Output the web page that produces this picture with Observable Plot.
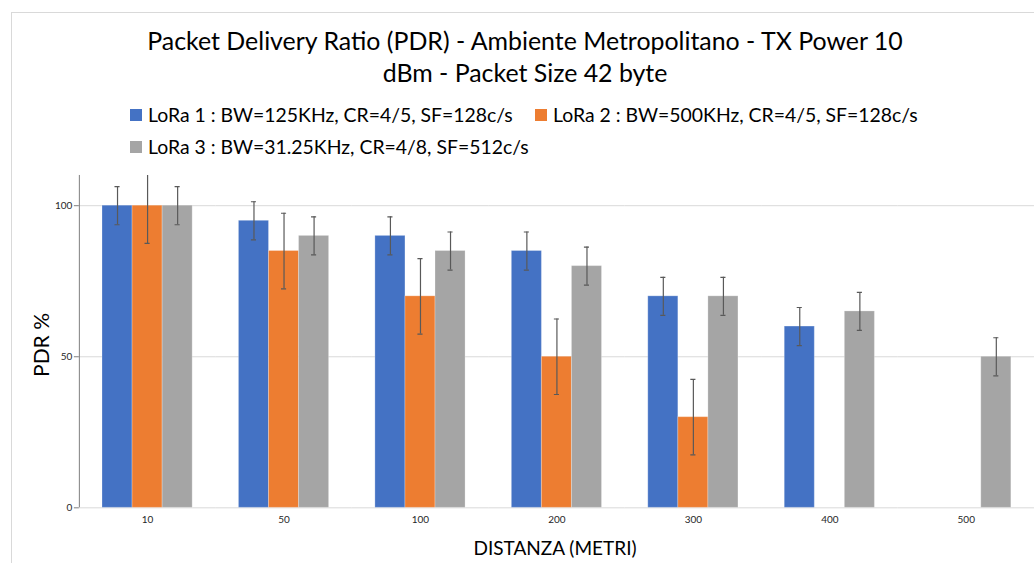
<!DOCTYPE html>
<html><head><meta charset="utf-8">
<script src="https://cdn.jsdelivr.net/npm/d3@7"></script>
<script src="https://cdn.jsdelivr.net/npm/@observablehq/plot@0.6"></script>
<style>
body{margin:0;width:1034px;height:563px;overflow:hidden;background:#fff;font-family:Lato,"Open Sans",sans-serif;position:relative;color:#000;}
#frame{position:absolute;left:11px;top:12px;width:1100px;height:600px;border-left:1px solid #d9d9d9;border-top:1px solid #d9d9d9;}
#title{position:absolute;left:0;top:24px;width:1050px;text-align:center;font-size:24.9px;line-height:32px;}
.leg{position:absolute;font-size:19.4px;line-height:22px;display:flex;align-items:center;white-space:nowrap;}
.sw{width:12px;height:12px;margin-right:6px;display:inline-block;}
#chart{position:absolute;left:0;top:165px;color:#262626;}
#ylabel{position:absolute;left:40px;top:345px;transform:translate(-50%,-50%) rotate(-90deg);font-size:21px;white-space:nowrap;}
#xlabel{position:absolute;left:555px;top:547px;transform:translate(-50%,-50%);font-size:19px;white-space:nowrap;}
</style></head><body>
<div id="frame"></div>
<div id="title"></div>
<div id="legend"></div>
<div id="chart"></div>
<div id="ylabel">PDR %</div>
<div id="xlabel">DISTANZA (METRI)</div>
<script>
const titleLines = ["Packet Delivery Ratio (PDR) - Ambiente Metropolitano - TX Power 10", "dBm - Packet Size 42 byte"];
const distances = ["10","50","100","200","300","400","500"];
const seriesKeys = ["LoRa 1","LoRa 2","LoRa 3"];
const seriesLabels = ["LoRa 1 : BW=125KHz, CR=4/5, SF=128c/s","LoRa 2 : BW=500KHz, CR=4/5, SF=128c/s","LoRa 3 : BW=31.25KHz, CR=4/8, SF=512c/s"];
const seriesColors = ["#4472C4","#ED7D31","#A5A5A5"];
const lora1 = [100,95,90,85,70,60,null];
const lora2 = [100,85,70,50,30,null,null];
const lora3 = [100,90,85,80,70,65,50];
const seriesErrors = [6.3,12.5,6.3];
const yTicks = [0,50,100];
const yDomain = [0,110];

document.getElementById("title").innerHTML = titleLines.join("<br>");
const legPos = [[130,104],[535,104],[130,136]];
const legend = document.getElementById("legend");
seriesLabels.forEach((t,i)=>{
  const d = document.createElement("div");
  d.className="leg"; d.style.left=legPos[i][0]+"px"; d.style.top=legPos[i][1]+"px";
  d.innerHTML = `<span class="sw" style="background:${seriesColors[i]}"></span><span>${t}</span>`;
  legend.appendChild(d);
});

const allSeries = [lora1, lora2, lora3];
const rows = [];
allSeries.forEach((vals,si)=>{
  vals.forEach((v,di)=>{
    if (v != null) rows.push({dist: distances[di], series: seriesKeys[si], value: v, err: seriesErrors[si]});
  });
});

const mLeft = 79;
const chart = Plot.plot({
  width: 1036, height: 398,
  marginTop: 10, marginBottom: 55, marginLeft: mLeft, marginRight: 0,
  style: {fontFamily: "Lato, sans-serif", fontSize: "10px", background: "transparent"},
  fx: {domain: distances, padding: 0, round: false, label: null},
  x: {domain: seriesKeys, paddingInner: 0, paddingOuter: 0.77, round: false, axis: null},
  y: {domain: yDomain, label: null},
  color: {domain: seriesKeys, range: seriesColors},
  marks: [
    Plot.gridY(yTicks, {stroke: "#d9d9d9", strokeOpacity: 1, strokeWidth: 1}),
    Plot.barY(rows, {fx: "dist", x: "series", y: "value", fill: "series", stroke: "white", strokeOpacity: 0.25, strokeWidth: 1}),
    Plot.ruleX(rows, {fx: "dist", x: "series", y1: d => d.value - d.err, y2: d => d.value + d.err, stroke: "#595959", strokeWidth: 1.2, clip: true}),
    Plot.tickY(rows, {fx: "dist", x: "series", y: d => d.value - d.err, insetLeft: 12.5, insetRight: 12.5, stroke: "#595959", strokeWidth: 1.2, clip: true}),
    Plot.tickY(rows, {fx: "dist", x: "series", y: d => d.value + d.err, insetLeft: 12.5, insetRight: 12.5, stroke: "#595959", strokeWidth: 1.2, clip: true}),
    Plot.axisY(yTicks, {tickSize: 5, tickPadding: 2, stroke: "#808080", strokeOpacity: 1, label: null}),
    Plot.axisFx({anchor: "bottom", tickSize: 0, tickPadding: 8, label: null})
  ]
});
// vertical y-axis domain line, from the y scale's own range
const ys = chart.scale("y");
d3.select(chart).append("line")
  .attr("x1", mLeft + 0.5).attr("x2", mLeft + 0.5)
  .attr("y1", ys.apply(yDomain[1])).attr("y2", ys.apply(yDomain[0]))
  .attr("stroke", "#7f7f7f").attr("stroke-width", 1);
document.getElementById("chart").appendChild(chart);
</script>
</body></html>
